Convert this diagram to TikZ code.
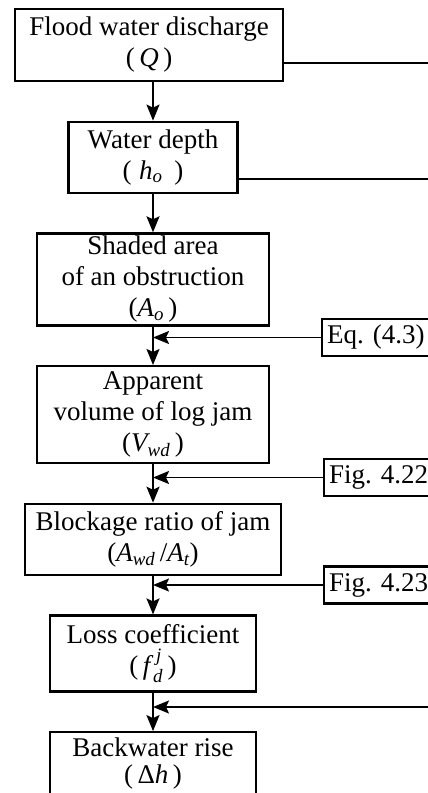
\documentclass[tikz,border=0pt]{standalone}
\usepackage{amsmath}
\usepackage{fontspec}
\setmainfont{Liberation Serif}
\usepackage{tikz}
\usetikzlibrary{arrows.meta,positioning}

\begin{document}
\begin{tikzpicture}[x=1pt, y=1pt, font=\fontsize{27}{31}\selectfont, box/.style={draw, line width=2.2pt, align=center, inner sep=2pt}, ref/.style={draw, line width=2.2pt, anchor=west, minimum height=37pt, inner xsep=5pt, inner ysep=2pt}, arr/.style={-{Stealth[length=16pt,width=13pt,inset=3pt]}, line width=1.8pt}, link/.style={line width=1.8pt}]
\useasboundingbox (0,0) rectangle (428,-793);
\node[box, minimum width=268pt, minimum height=72pt] (flow) at (149,-45) {Flood water discharge\\(\,$\textit{Q}$\,)};
\node[box, below=38.5pt of flow, xshift=4pt, minimum width=169pt, minimum height=71pt] (depth) {Water depth\\(\;$\textit{h}_{\textit{o}}$\;\,)};
\node[box, below=38.5pt of depth, minimum width=232pt, minimum height=92pt] (area) {Shaded area\\of an obstruction\\($\textit{A}_{\textit{o}}$\,)};
\node[box, below=38.5pt of area, minimum width=232pt, minimum height=97pt] (volume) {Apparent\\volume of log jam\\($\textit{V}_{\textit{wd}}$\,)};
\node[box, below=38.5pt of volume, minimum width=256pt, minimum height=71pt] (ratio) {Blockage ratio of jam\\($\textit{A}_{\textit{wd}}$\,/$\textit{A}_{\textit{t}}$)};
\node[box, below=38.5pt of ratio, minimum width=206pt, minimum height=76pt] (loss) {Loss coefficient\\(\,$\textit{f}^{\,\,\textit{j}}_{\,\textit{d}}$\,)};
\node[box, below=38.5pt of loss, minimum width=206pt, inner ysep=6pt, text depth=32pt] (rise) {Backwater rise\\[-4pt](\,Δ\textit{h}\,)};
\node[ref] (eq) at (321,-337.5) {Eq. (4.3)};
\node[ref] (fig22) at (323,-477.5) {Fig. 4.22};
\node[ref] (fig23) at (323,-585) {Fig. 4.23};
\coordinate (flow-out) at (440,-63);
\coordinate (depth-out) at (440,-179);
\coordinate (rise-in) at (440,-707);
% main chain
\draw[arr] (flow.south -| depth) -- (depth);
\draw[arr] (depth) -- (area);
\draw[arr] (area) -- (volume);
\draw[arr] (volume) -- (ratio);
\draw[arr] (ratio) -- (loss);
\draw[arr] (loss) -- (rise);
% side inputs
\draw[link] (flow.east |- flow-out) -- (flow-out);
\draw[link] (depth.east |- depth-out) -- (depth-out);
\draw[arr] (eq) -- (eq -| volume);
\draw[arr] (fig22) -- (fig22 -| ratio);
\draw[arr] (fig23) -- (fig23 -| loss);
\draw[arr] (rise-in) -- (rise-in -| rise);
\end{tikzpicture}
\end{document}
